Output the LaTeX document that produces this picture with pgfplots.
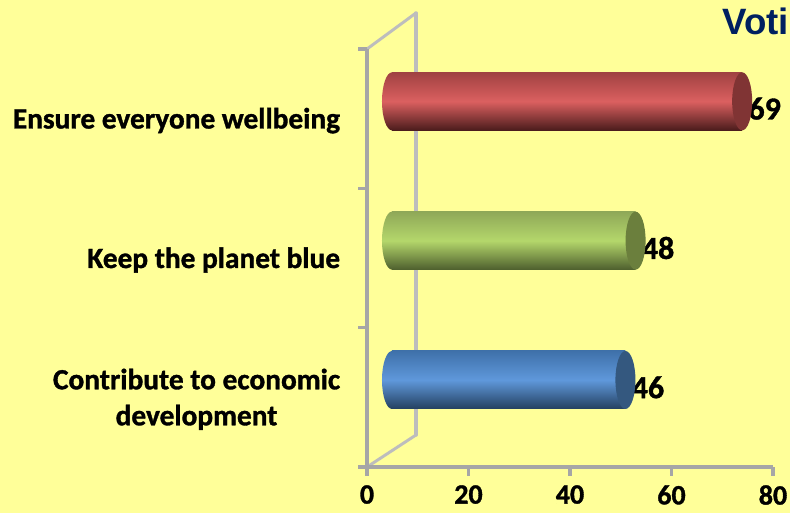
\documentclass[border=0pt]{standalone}
\usepackage{fontspec}
\setmainfont{Carlito}[BoldFeatures={FakeBold=1.2}]
\newfontfamily\titlefont{Liberation Sans}
\usepackage{pgfplots}
\pgfplotsset{compat=1.18}
\definecolor{bgyellow}{HTML}{FFFF99}
\definecolor{axgray}{HTML}{A6A6A6}
\definecolor{wallgray}{HTML}{BDBDBD}
\definecolor{titleblue}{HTML}{002060}
\definecolor{redtop}{HTML}{A04242}
\definecolor{redmid}{HTML}{DB6060}
\definecolor{redbot}{HTML}{4A1C1C}
\definecolor{redcap}{HTML}{803434}
\definecolor{greentop}{HTML}{8FA858}
\definecolor{greenmid}{HTML}{B4D76B}
\definecolor{greenbot}{HTML}{4E5F2E}
\definecolor{greencap}{HTML}{6B7F3D}
\definecolor{bluetop}{HTML}{3F71AA}
\definecolor{bluemid}{HTML}{5F98DB}
\definecolor{bluebot}{HTML}{24405F}
\definecolor{bluecap}{HTML}{34587F}
% cylinder ends, 1px = 0.75pt; coordinates need units or they count as axis cs
\newcommand{\capmarks}[1]{%
  \pgfdeclareplotmark{#1left}{\shade[draw=none,top color=#1top,bottom color=#1bot,middle color=#1mid] (0pt,0pt) ellipse (7.5pt and 21.75pt);}%
  \pgfdeclareplotmark{#1right}{\fill[draw=none,#1cap] (0pt,0pt) ellipse (7.5pt and 21.75pt);}%
}
\capmarks{red}\capmarks{green}\capmarks{blue}
\pgfplotsset{
  cyl/.style={xbar,bar width=43.5pt,bar shift=0pt,draw=none,xshift=18.75pt,yshift=13pt,
    top color=#1top,bottom color=#1bot,middle color=#1mid,
    nodes near coords,point meta=explicit symbolic,
    every node near coord/.append style={font=\fontsize{24}{24}\selectfont\bfseries,text=black,
      anchor=west,inner sep=0pt,xshift=4.5pt,yshift=-5.5pt}},
  cap/.style={only marks,forget plot,mark=#1,draw=none,xshift=18.75pt,yshift=13pt},
}
\begin{document}
\begin{tikzpicture}
\path[use as bounding box,fill=bgyellow] (-275.25pt,-34.5pt) rectangle (317.25pt,350.25pt);
\begin{scope}[x=0.75pt,y=0.75pt,line cap=round]
  % back wall of the 3D frame
  \draw[wallgray,line width=2.6pt] (49,32) -- (49,454);
  \draw[wallgray,line width=2.2pt] (0,0) -- (49,32);
  \draw[wallgray,line width=2.2pt] (0,418) -- (49,454);
\end{scope}
\node[anchor=base west,inner sep=0pt,text=titleblue,font=\titlefont\fontsize{27.5}{27.5}\selectfont\bfseries]
  at (266.25pt,324pt) {Voti};
\begin{axis}[
  scale only axis,width=304.5pt,height=313.5pt,
  xmin=0,xmax=80,ymin=-0.5,ymax=2.5,
  clip=false,
  axis lines=left,
  axis line style={-,axgray,line width=2.6pt},
  xtick={0,20,40,60,80},
  ytick={-0.5,0.5,1.5,2.5},
  yticklabels={},
  extra y ticks={0,1,2},
  extra y tick labels={{Contribute to economic\\development},{Keep the planet blue},{Ensure everyone wellbeing}},
  extra y tick style={
    major tick length=0pt,
    ytick style={draw=none},
    yticklabel style={align=center,inner sep=0pt,xshift=-20pt,yshift=-1.5pt,
      font=\fontsize{22}{27}\selectfont\bfseries},
  },
  tick align=outside,
  major tick length=6.5pt,
  tick style={axgray,line width=2.4pt},
  /pgf/number format/assume math mode=true,
  tick label style={font=\fontsize{21}{24}\selectfont\bfseries,text=black},
  xticklabel style={inner sep=0pt,yshift=-7pt},
]
\addplot[cap=blueleft] coordinates {(0,0)};
\addplot[cyl=blue] coordinates {(46,0) [46]};
\addplot[cap=blueright] coordinates {(46,0)};
\addplot[cap=greenleft] coordinates {(0,1)};
\addplot[cyl=green] coordinates {(48,1) [48]};
\addplot[cap=greenright] coordinates {(48,1)};
\addplot[cap=redleft] coordinates {(0,2)};
\addplot[cyl=red] coordinates {(69,2) [69]};
\addplot[cap=redright] coordinates {(69,2)};
\end{axis}
\end{tikzpicture}
\end{document}
